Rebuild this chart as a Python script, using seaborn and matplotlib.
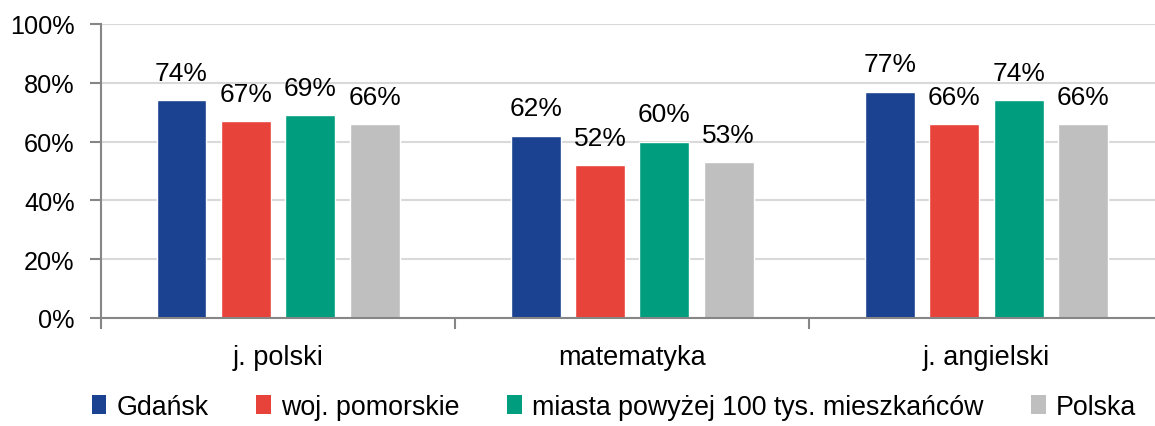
import matplotlib
matplotlib.use("Agg")
import matplotlib.pyplot as plt
from matplotlib.patches import Patch
import pandas as pd
import seaborn as sns

subjects = ["j. polski", "matematyka", "j. angielski"]
series = ["Gdańsk", "woj. pomorskie", "miasta powyżej 100 tys. mieszkańców", "Polska"]
gdansk = [74, 62, 77]
pomorskie = [67, 52, 66]
miasta = [69, 60, 74]
polska = [66, 53, 66]
colors = ["#1B4191", "#E8433A", "#009E7E", "#BFBFBF"]

rows = []
for name, vals in zip(series, [gdansk, pomorskie, miasta, polska]):
    for subj, v in zip(subjects, vals):
        rows.append({"subject": subj, "series": name, "value": v})
df = pd.DataFrame(rows)

sns.set_style("white")
plt.rcParams["font.family"] = ["Liberation Sans", "DejaVu Sans"]
plt.rcParams["text.color"] = "black"
plt.rcParams["xtick.labelcolor"] = "black"
plt.rcParams["ytick.labelcolor"] = "black"

fig = plt.figure(figsize=(11.55, 4.27), dpi=100)
ax = fig.add_axes([101 / 1155, 1 - 319 / 427, 1 - 101 / 1155, (319 - 25) / 427])

sns.barplot(data=df, x="subject", y="value", hue="series", hue_order=series,
            palette=colors, width=0.727, gap=0.225, saturation=1, ax=ax,
            legend=False, zorder=2)

# value labels above bars
for cont in ax.containers:
    ax.bar_label(cont, fmt="%d%%", padding=11, fontsize=19, color="black", zorder=3)

ax.set_ylim(0, 100)
ax.set_xlim(-0.5, 2.476)
ax.set_yticks(range(0, 101, 20))
ax.set_yticklabels([f"{t}%" for t in range(0, 101, 20)], fontsize=18.2)
ax.yaxis.grid(True, color="#D9D9D9", linewidth=1.5, zorder=0)
ax.set_axisbelow(True)
ax.set_xlabel("")
ax.set_ylabel("")

# tick marks between groups, labels centred under groups
ax.set_xticks([-0.5, 0.5, 1.5], minor=True)
ax.tick_params(axis="x", which="major", length=0, pad=19, labelsize=19.5)
ax.tick_params(axis="x", which="minor", length=8, width=1.5, color="#868686", direction="out")
ax.tick_params(axis="y", length=8, width=1.5, color="#868686", direction="out", pad=11)
ax.tick_params(bottom=True, left=True, which="both")

for side in ["top", "right"]:
    ax.spines[side].set_visible(False)
for side in ["left", "bottom"]:
    ax.spines[side].set_color("#868686")
    ax.spines[side].set_linewidth(1.5)

handles = [Patch(facecolor=c, edgecolor="none", label=s) for c, s in zip(colors, series)]
fig.legend(handles=handles, loc="center", bbox_to_anchor=(614 / 1155, 1 - 408 / 427),
           ncol=4, frameon=False, fontsize=19.3, handlelength=0.55, handleheight=0.75,
           handletextpad=0.4, columnspacing=1.75, labelcolor="black")

fig.savefig("out.png", dpi=100)
